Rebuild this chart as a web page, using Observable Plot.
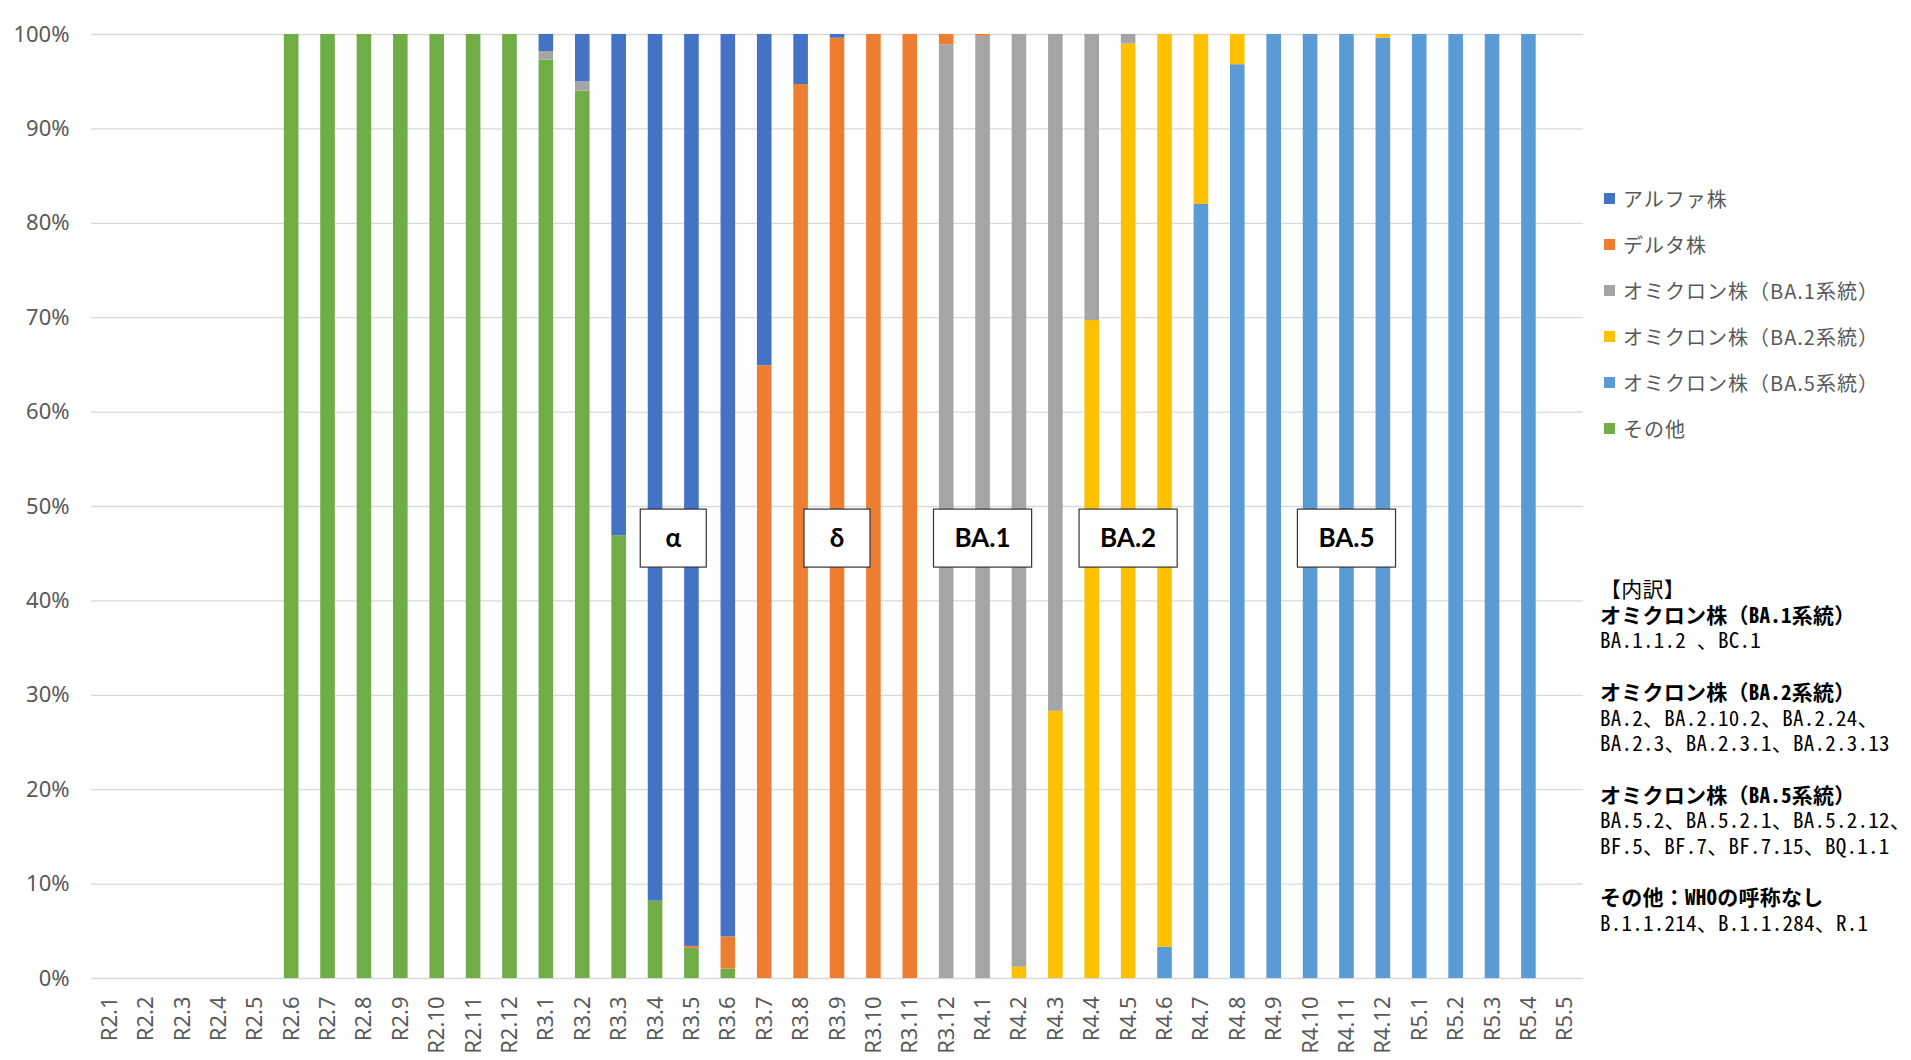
<!DOCTYPE html>
<html><head><meta charset="utf-8">
<script src="https://cdn.jsdelivr.net/npm/d3@7"></script>
<script src="https://cdn.jsdelivr.net/npm/@observablehq/plot@0.6"></script>
<style>
body{margin:0;background:#fff;}
#wrap{position:relative;width:1911px;height:1060px;overflow:hidden;}
#chart{position:absolute;left:0;top:0;}
#legend{position:absolute;left:1604px;top:176px;font-family:"Noto Sans CJK JP",sans-serif;font-size:20px;color:#595959;letter-spacing:1px;}
.row{height:45.9px;display:flex;align-items:center;white-space:nowrap;}
.sw{width:11px;height:11px;margin-right:8px;flex:none;}
#notes{position:absolute;left:1600px;top:576px;font-family:"Noto Sans Mono CJK JP","DejaVu Sans Mono","Noto Sans CJK JP",monospace;font-size:21px;letter-spacing:0.25px;line-height:25.7px;color:#000;white-space:pre;}
#notes .b{font-weight:700;}
</style></head><body>
<div id="wrap"><div id="chart"></div><div id="legend"></div><div id="notes"></div></div>
<script>
const categories = ["R2.1","R2.2","R2.3","R2.4","R2.5","R2.6","R2.7","R2.8","R2.9","R2.10","R2.11","R2.12",
  "R3.1","R3.2","R3.3","R3.4","R3.5","R3.6","R3.7","R3.8","R3.9","R3.10","R3.11","R3.12",
  "R4.1","R4.2","R4.3","R4.4","R4.5","R4.6","R4.7","R4.8","R4.9","R4.10","R4.11","R4.12",
  "R5.1","R5.2","R5.3","R5.4","R5.5"];

const seriesNames = ["アルファ株","デルタ株","オミクロン株（BA.1系統）","オミクロン株（BA.2系統）","オミクロン株（BA.5系統）","その他"];
const seriesColors = ["#4472C4","#ED7D31","#A5A5A5","#FFC000","#5B9BD5","#70AD47"];

const alpha = [0,0,0,0,0,0,0,0,0,0,0,0, 1.8,5.0,53.1,91.8,96.6,95.6,35.1,5.3,0.4,0,0,0, 0,0,0,0,0,0,0,0,0,0,0,0, 0,0,0,0,0];
const delta = [0,0,0,0,0,0,0,0,0,0,0,0, 0,0,0,0,0.2,3.4,64.9,94.7,99.6,100,100,1.1, 0.2,0,0,0,0,0,0,0,0,0,0,0, 0,0,0,0,0];
const ba1   = [0,0,0,0,0,0,0,0,0,0,0,0, 0.9,1.0,0,0,0,0,0,0,0,0,0,98.9, 99.8,98.8,71.7,30.3,1.0,0,0,0,0,0,0,0, 0,0,0,0,0];
const ba2   = [0,0,0,0,0,0,0,0,0,0,0,0, 0,0,0,0,0,0,0,0,0,0,0,0, 0,1.2,28.3,69.7,99.0,96.7,18.0,3.2,0,0,0,0.4, 0,0,0,0,0];
const ba5   = [0,0,0,0,0,0,0,0,0,0,0,0, 0,0,0,0,0,0,0,0,0,0,0,0, 0,0,0,0,0,3.3,82.0,96.8,100,100,100,99.6, 100,100,100,100,0];
const other = [0,0,0,0,0,100,100,100,100,100,100,100, 97.3,94.0,46.9,8.2,3.2,1.0,0,0,0,0,0,0, 0,0,0,0,0,0,0,0,0,0,0,0, 0,0,0,0,0];

const yTicks = [0,10,20,30,40,50,60,70,80,90,100];

const labelTexts = ["α","δ","BA.1","BA.2","BA.5"];
const labelFrom  = ["R3.4","R3.9","R4.1","R4.5","R4.11"];
const labelTo    = ["R3.5","R3.9","R4.1","R4.5","R4.11"];

const noteLines = [
  ["【内訳】", false],
  ["オミクロン株（BA.1系統）", true],
  ["BA.1.1.2 、BC.1", false],
  ["", false],
  ["オミクロン株（BA.2系統）", true],
  ["BA.2、BA.2.10.2、BA.2.24、", false],
  ["BA.2.3、BA.2.3.1、BA.2.3.13", false],
  ["", false],
  ["オミクロン株（BA.5系統）", true],
  ["BA.5.2、BA.5.2.1、BA.5.2.12、", false],
  ["BF.5、BF.7、BF.7.15、BQ.1.1", false],
  ["", false],
  ["その他：WHOの呼称なし", true],
  ["B.1.1.214、B.1.1.284、R.1", false]
];

// long table, stacked bottom to top: その他, BA.5, BA.2, BA.1, デルタ, アルファ
const seriesValues = [alpha, delta, ba1, ba2, ba5, other];
const stackOrder = [5,4,3,2,1,0];
const rows = [];
stackOrder.forEach(s => {
  categories.forEach((c, i) => {
    const v = seriesValues[s][i];
    if (v > 0) rows.push({cat: c, series: seriesNames[s], value: v});
  });
});

const chart = Plot.plot({
  width: 1911,
  height: 1060,
  marginLeft: 91,
  marginRight: 328,
  marginTop: 34,
  marginBottom: 82,
  style: {fontFamily: "'Noto Sans', sans-serif", color: "#595959", background: "transparent"},
  x: {domain: categories, padding: 0, round: false, label: null},
  y: {domain: [0, 100], label: null},
  color: {domain: seriesNames, range: seriesColors},
  marks: [
    Plot.ruleY(yTicks, {stroke: "#d9d9d9", strokeWidth: 1.3}),
    Plot.barY(rows, {x: "cat", y: "value", fill: "series", insetLeft: 10.9, insetRight: 10.9}),
    Plot.axisY({ticks: yTicks, tickFormat: d => d + "%", tickSize: 0, tickPadding: 22, fontSize: 22, label: null}),
    Plot.axisX({tickRotate: -90, tickSize: 0, tickPadding: 18, fontSize: 22, label: null})
  ]
});
document.getElementById("chart").append(chart);

// annotation boxes, placed through the plot's own scales
const xs = chart.scale("x"), ys = chart.scale("y");
const svg = d3.select(chart);
const lg = svg.append("g");
const labelY = 46.6;
labelTexts.forEach((t, i) => {
  const cx = (xs.apply(labelFrom[i]) + xs.apply(labelTo[i])) / 2 + xs.bandwidth / 2;
  const cy = ys.apply(labelY);
  const gg = lg.append("g");
  const rect = gg.append("rect").attr("fill", "#fff").attr("stroke", "#333").attr("stroke-width", 1.2);
  const txt = gg.append("text").attr("x", cx).attr("y", cy).attr("dy", "0.36em")
    .attr("text-anchor", "middle").attr("font-family", "Lato, 'Noto Sans', sans-serif")
    .attr("font-weight", 700).attr("font-size", 26).attr("fill", "#000").text(t);
  const bw = Math.max(66, txt.node().getBBox().width + 42);
  rect.attr("x", cx - bw / 2).attr("y", cy - 29).attr("width", bw).attr("height", 58);
});

// legend
const legend = d3.select("#legend");
seriesNames.forEach((n, i) => {
  const r = legend.append("div").attr("class", "row");
  r.append("div").attr("class", "sw").style("background", seriesColors[i]);
  r.append("span").text(n);
});

// notes
const notes = d3.select("#notes");
noteLines.forEach(([t, b]) => {
  notes.append("div").attr("class", b ? "b" : null).text(t === "" ? " " : t);
});
</script></body></html>
